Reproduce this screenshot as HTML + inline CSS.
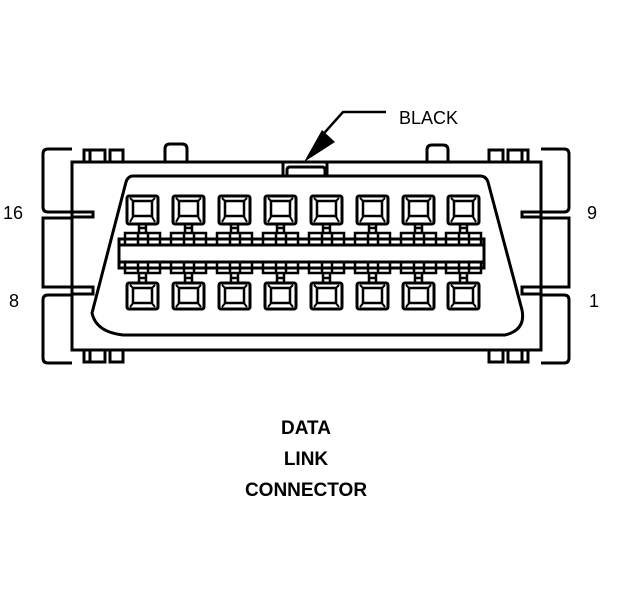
<!DOCTYPE html>
<html><head><style>body{margin:0;background:#fff}svg{display:block}</style></head>
<body>
<svg width="624" height="600" viewBox="0 0 624 600" xmlns="http://www.w3.org/2000/svg" font-family="Liberation Sans, Arial, sans-serif">
<g fill="none" stroke="#000" stroke-width="3">
<path d="M72 149 H48 Q43 149 43 154 V207 Q43 212 48 212 H72"/>
<path d="M72 218 H43 V287 H72"/>
<path d="M72 295 H48 Q43 295 43 300 V358 Q43 363 48 363 H72"/>
<path d="M72 212 H93 V217 H72"/>
<path d="M72 287 H93 V294 H72"/>
<path d="M541 149 H564 Q569 149 569 154 V207 Q569 212 564 212 H541"/>
<path d="M541 218 H569 V287 H541"/>
<path d="M541 295 H564 Q569 295 569 300 V358 Q569 363 564 363 H541"/>
<path d="M541 212 H522 V217 H541"/>
<path d="M541 287 H522 V294 H541"/>
<rect x="72" y="162" width="469" height="188"/>
<path d="M84 162 V150 H105 V162 M90 150 V162 M110 162 V150 H123 V162"/>
<path d="M84 350 V362 H105 V350 M90 350 V362 M110 350 V362 H123 V350"/>
<path d="M489 162 V150 H503 V162 M508 162 V150 H528 V162 M522 150 V162"/>
<path d="M489 350 V362 H503 V350 M508 350 V362 H528 V350 M522 350 V362"/>
<path d="M165 162 V149 Q165 144 170 144 H182 Q187 144 187 149 V162"/>
<path d="M427 162 V150 Q427 145 432 145 H443 Q448 145 448 150 V162"/>
<path d="M283 162 V176 M327 162 V176"/>
<path d="M287 176 V170 Q287 167 290 167 H322 Q325 167 325 170 V176"/>
<path d="M133 176 H480 Q486 176 488 182 L522 310 Q526 330 505 335 H123 Q96 332 92 313 L126 182 Q128 176 133 176 Z"/>
<rect x="119" y="239" width="365" height="29"/>
<line x1="119" y1="245" x2="484" y2="245"/>
<line x1="119" y1="262" x2="484" y2="262"/>
</g>
<g fill="none" stroke="#000" stroke-width="3">
<g id="p">
<rect x="127" y="196" width="31" height="28" rx="2"/>
<rect x="133" y="201" width="19" height="15" stroke-width="2.5"/>
<path d="M130 198 L134 202 M155 198 L151 202 M130 222 L134 215 M155 222 L151 215" stroke-width="2"/>
<path d="M139 224 V233 M146 224 V233 M139 228 H146" stroke-width="2.5"/>
<rect x="125" y="233" width="35" height="12" stroke-width="2.5"/>
<path d="M138 233 V245 M148 233 V245" stroke-width="2.5"/>
<rect x="125" y="262" width="35" height="11" stroke-width="2.5"/>
<path d="M138 262 V273 M148 262 V273" stroke-width="2.5"/>
<path d="M139 273 V283 M146 273 V283 M139 278 H146" stroke-width="2.5"/>
<rect x="127" y="283" width="31" height="26" rx="2"/>
<rect x="133" y="288" width="19" height="15" stroke-width="2.5"/>
<path d="M130 285 L134 289 M155 285 L151 289 M130 307 L134 302 M155 307 L151 302" stroke-width="2"/>
</g>
<use href="#p" x="46"/><use href="#p" x="92"/><use href="#p" x="138"/>
<use href="#p" x="184"/><use href="#p" x="230"/><use href="#p" x="276"/><use href="#p" x="321"/>
</g>
<path d="M386 112 H343 L318 140" fill="none" stroke="#000" stroke-width="2.5"/>
<polygon points="304,162 322,130 335,142" fill="#000"/>
<g font-size="18" fill="#000">
<text x="399" y="124">BLACK</text>
<text x="3" y="219">16</text>
<text x="587" y="219">9</text>
<text x="9" y="307">8</text>
<text x="589" y="307">1</text>
</g>
<g font-size="19" font-weight="bold" text-anchor="middle" fill="#000">
<text x="306" y="434">DATA</text>
<text x="306" y="465">LINK</text>
<text x="306" y="496">CONNECTOR</text>
</g>
</svg>
</body></html>
